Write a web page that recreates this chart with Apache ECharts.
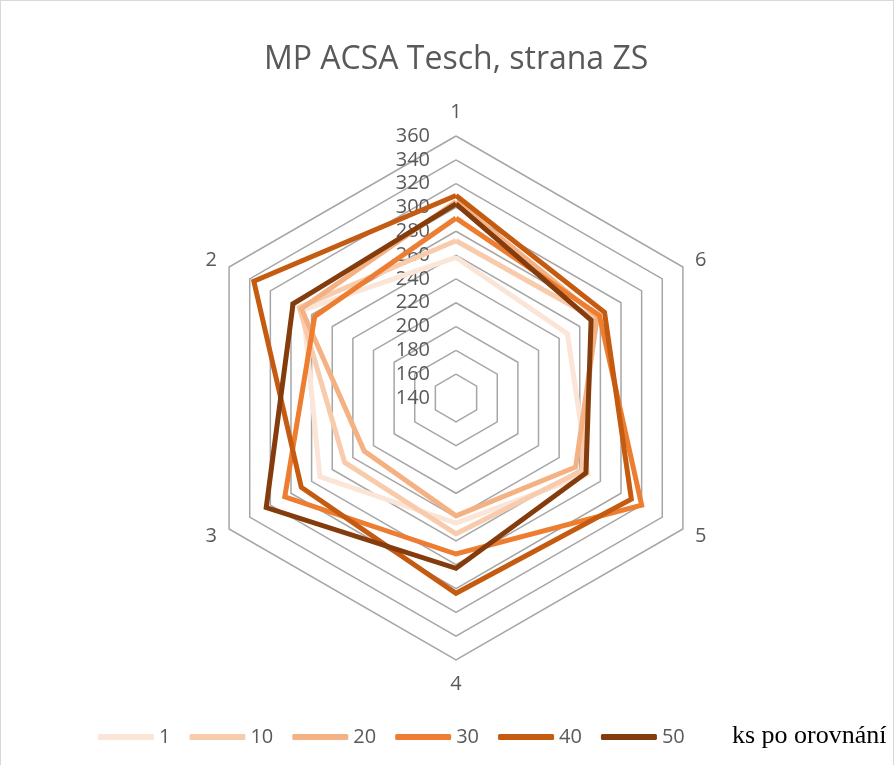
<!DOCTYPE html>
<html>
<head>
<meta charset="utf-8">
<script src="https://cdn.jsdelivr.net/npm/echarts@6/dist/echarts.min.js"></script>
<style>
  html, body { margin: 0; padding: 0; background: #fff; }
  #chart { width: 894px; height: 765px; box-sizing: border-box; border: 1px solid #d9d9d9; border-bottom: none; }
</style>
</head>
<body>
<div id="chart"></div>
<script>
// spokes of the radar
const spokes = ["1", "2", "3", "4", "5", "6"];
// series = ks po orovnání
const seriesNames = ["1", "10", "20", "30", "40", "50"];
const colors = ["#fbe5d6", "#f8cbad", "#f4b183", "#ed7d31", "#c55a11", "#843c0c"];

const s1 = [258, 288, 272, 245, 268, 248];
const s10 = [272, 292, 248, 254, 262, 274];
const s20 = [305, 290, 229, 239, 256, 277];
const s30 = [291, 277, 306, 271, 320, 279];
const s40 = [310, 336, 290, 304, 310, 284];
const s50 = [303, 298, 324, 283, 266, 271];

const axisMin = 140;
const axisMax = 360;
const axisStep = 20;

const allValues = [s1, s10, s20, s30, s40, s50];
const font = "Open Sans";

const chart = echarts.init(document.getElementById("chart"));

chart.setOption({
    animation: false,
    title: [
        {
            text: "MP ACSA Tesch, strana ZS",
            left: 258,
            top: 38,
            textStyle: { fontFamily: font, fontSize: 32, fontWeight: "normal", color: "#595959" }
        },
        {
            text: "ks po orovnání",
            left: 726,
            top: 717,
            textStyle: { fontFamily: "Liberation Serif", fontSize: 26, fontWeight: "normal", color: "#000" }
        }
    ],
    legend: {
        data: seriesNames,
        left: 92,
        top: 721,
        itemWidth: 56,
        itemHeight: 6,
        itemGap: 19,
        icon: "roundRect",
        textStyle: { fontFamily: font, fontSize: 20, color: "#595959" }
    },
    // cartesian axis used only to print the tick values along spoke 1
    grid: { left: 455, top: 135, width: 1, height: 262 },
    xAxis: { type: "value", show: false, min: 0, max: 1 },
    yAxis: {
        type: "value",
        min: axisMin,
        max: axisMax,
        interval: axisStep,
        axisLine: { show: false },
        axisTick: { show: false },
        splitLine: { show: false },
        axisLabel: { margin: 26, fontFamily: font, fontSize: 20, color: "#595959" }
    },
    radar: {
        center: [455, 397],
        radius: 262,
        startAngle: 90,
        shape: "polygon",
        splitNumber: (axisMax - axisMin) / axisStep,
        indicator: spokes.map(n => ({ name: n, min: axisMin, max: axisMax })),
        nameGap: 14,
        axisName: { fontFamily: font, fontSize: 20, color: "#595959" },
        axisLine: { show: false },
        axisTick: { show: false },
        axisLabel: { show: false },
        splitArea: { show: false },
        splitLine: { lineStyle: { color: "#a6a6a6", width: 1.5 } }
    },
    series: seriesNames.map((name, i) => ({
        type: "radar",
        name: name,
        symbol: "none",
        color: colors[i],
        lineStyle: { width: 5, color: colors[i], join: "miter" },
        data: [{ value: allValues[i], name: name }]
    }))
});
</script>
</body>
</html>
